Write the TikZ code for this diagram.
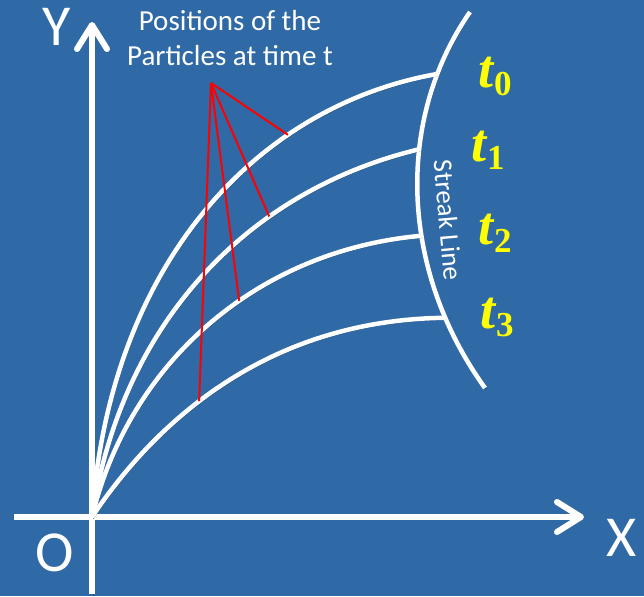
\documentclass[tikz,border=0pt]{standalone}
\usepackage{fontspec}
\setmainfont{Carlito}
\newfontfamily\tfont{Liberation Serif}
\usetikzlibrary{arrows.meta}
\definecolor{bgblue}{HTML}{2F69A6}
\definecolor{tyellow}{HTML}{FFFF00}
\newcommand{\tlab}[1]{{\fontsize{54}{54}\selectfont\bfseries\itshape t}\kern1pt\raisebox{-8pt}{\fontsize{35}{35}\selectfont\bfseries #1}}

\begin{document}
\begin{tikzpicture}[x=1pt,y=-1pt,
  shadowed/.style={preaction={draw=black,opacity=0.3,transform canvas={shift={(1.5pt,-2pt)}}}},
  axis/.style={white,line width=6pt,shadowed,-{Straight Barb[length=24pt,width=30pt,round]}},
  pathline/.style={white,line width=4.5pt,shadowed},
  pointer/.style={red,line width=2pt},
  timelabel/.style={text=tyellow,anchor=base west,inner sep=0pt,font=\tfont},
  axislabel/.style={text=white,font=\fontsize{58}{58}\selectfont}]
  \fill[bgblue] (0,0) rectangle (644,596);
  \useasboundingbox (0,0) rectangle (644,596);

  % axes
  \coordinate (O) at (92,517);
  \coordinate (ybot) at (92,594);
  \coordinate (ytop) at (92,22);
  \coordinate (xleft) at (14,517);
  \coordinate (xright) at (584,517);
  \draw[axis] (ybot) -- (ytop);
  \draw[axis] (xleft) -- (xright);
  \node[axislabel] (ylab) at (57,27) {Y};
  \node[axislabel] (olab) at (55,553) {O};
  \node[axislabel] (xlab) at (622,538) {X};

  % streak line
  \draw[pathline] (470,12) .. controls (395,120) and (400,270) .. (485,388)
    coordinate[pos=0.18] (e0) coordinate[pos=0.38] (e1)
    coordinate[pos=0.6] (e2) coordinate[pos=0.81] (e3);
  \node[text=white,rotate=-85,font=\fontsize{27}{27}\selectfont] (streak) at (448,220) {Streak Line};

  % path lines
  \draw[pathline] (O) .. controls (110,260) and (260,105) .. (e0) coordinate[pos=0.7] (p0);
  \draw[pathline] (O) .. controls (122,320) and (250,190) .. (e1) coordinate[pos=0.675] (p1);
  \draw[pathline] (O) .. controls (130,360) and (260,250) .. (e2) coordinate[pos=0.58] (p2);
  \draw[pathline] (O) .. controls (150,430) and (260,320) .. (e3) coordinate[pos=0.435] (p3);

  % pointers
  \node[text=white,align=center,font=\fontsize{29}{35}\selectfont] (title) at (230,38) {Positions of the\\Particles at time t};
  \coordinate (apex) at (211,83);
  \foreach \i in {0,...,3}
    \draw[pointer] (apex) -- (p\i);

  % time labels
  \node[timelabel] (t0) at (478,88) {\tlab{0}};
  \node[timelabel] (t1) at (471,161) {\tlab{1}};
  \node[timelabel] (t2) at (478,244) {\tlab{2}};
  \node[timelabel] (t3) at (480,328) {\tlab{3}};
\end{tikzpicture}
\end{document}
